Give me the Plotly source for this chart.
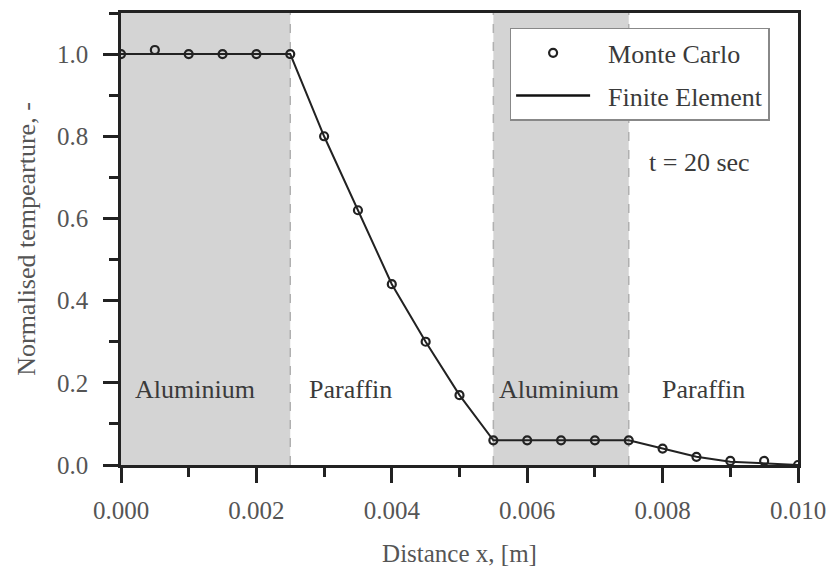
import plotly.graph_objects as go

# Data
x_pos = [0.0, 0.0005, 0.001, 0.0015, 0.002, 0.0025, 0.003, 0.0035, 0.004, 0.0045, 0.005,
         0.0055, 0.006, 0.0065, 0.007, 0.0075, 0.008, 0.0085, 0.009, 0.0095, 0.010]
mc_vals = [1.0, 1.01, 1.0, 1.0, 1.0, 1.0, 0.80, 0.62, 0.44, 0.30, 0.17,
           0.06, 0.06, 0.06, 0.06, 0.06, 0.04, 0.02, 0.01, 0.01, 0.0]
fe_vals = [1.0, 1.0, 1.0, 1.0, 1.0, 1.0, 0.80, 0.62, 0.44, 0.30, 0.17,
           0.06, 0.06, 0.06, 0.06, 0.06, 0.04, 0.02, 0.008, 0.004, 0.0]
al_regions = [(0.0, 0.0025), (0.0055, 0.0075)]
boundaries = [0.0025, 0.0055, 0.0075]
region_labels = ["Aluminium", "Paraffin", "Aluminium", "Paraffin"]
region_label_x = [0.00110, 0.00339, 0.00647, 0.00860]

FONT = "Liberation Serif, Times New Roman, serif"
TXT = "#3a3a3a"

fig = go.Figure()

fig.add_trace(go.Scatter(x=x_pos, y=fe_vals, mode="lines", name="Finite Element",
                         line=dict(color="#222222", width=2), showlegend=False))
fig.add_trace(go.Scatter(x=x_pos, y=mc_vals, mode="markers", name="\u2002Monte Carlo",
                         legendgroup="mc",
                         marker=dict(symbol="circle-open", size=8, color="#222222",
                                     line=dict(width=2.2))))
fig.add_trace(go.Scatter(x=[None], y=[None], mode="lines", name="\u2002Finite Element",
                         legendgroup="fe",
                         line=dict(color="#111111", width=2.5)))

for a, b in al_regions:
    fig.add_shape(type="rect", xref="x", yref="y", x0=a, x1=b, y0=0, y1=1.1,
                  fillcolor="#d4d4d4", line=dict(width=0), layer="below")
for bx in boundaries:
    fig.add_shape(type="line", xref="x", yref="y", x0=bx, x1=bx, y0=0, y1=1.1,
                  line=dict(color="#b0b0b0", width=1.5, dash="dash"), layer="below")

for lab, lx in zip(region_labels, region_label_x):
    fig.add_annotation(x=lx, y=0.184, xref="x", yref="y", text=lab, showarrow=False,
                       font=dict(family=FONT, size=26, color=TXT))

fig.add_annotation(x=0.00855, y=0.735, xref="x", yref="y", text="t = 20 sec", showarrow=False,
                   font=dict(family=FONT, size=26, color=TXT))

fig.update_layout(
    width=836, height=573,
    margin=dict(l=121, r=34, t=10, b=107),
    plot_bgcolor="white", paper_bgcolor="white",
    font=dict(family=FONT, color=TXT),
    legend=dict(x=0.574, y=0.967, xanchor="left", yanchor="top",
                bgcolor="white", bordercolor="#888888", borderwidth=1.5,
                font=dict(family=FONT, size=26, color=TXT), itemwidth=74,
                tracegroupgap=6),
)
fig.update_xaxes(range=[0, 0.010], tickvals=[0, 0.002, 0.004, 0.006, 0.008, 0.010],
                 tickformat=".3f", ticks="outside", ticklen=15, tickwidth=2.5, tickcolor="#222",
                 minor=dict(ticks="outside", ticklen=9, tickwidth=2.5, dtick=0.001, tickcolor="#222"),
                 showline=True, linecolor="#222", linewidth=2.5, mirror=True,
                 showgrid=False, zeroline=False, ticklabelstandoff=6,
                 tickfont=dict(family=FONT, size=25, color="#555"),
                 title=dict(text="Distance x, [m]", font=dict(family=FONT, size=25, color="#555"),
                            standoff=22))
fig.update_yaxes(range=[0, 1.1], tickvals=[0, 0.2, 0.4, 0.6, 0.8, 1.0],
                 tickformat=".1f", ticks="outside", ticklen=15, tickwidth=2.5, tickcolor="#222",
                 minor=dict(ticks="outside", ticklen=9, tickwidth=2.5, dtick=0.1, tickcolor="#222"),
                 showline=True, linecolor="#222", linewidth=2.5, mirror=True,
                 showgrid=False, zeroline=False, ticklabelstandoff=10,
                 tickfont=dict(family=FONT, size=25, color="#555"),
                 title=dict(text="Normalised tempearture, -", font=dict(family=FONT, size=26, color="#555"),
                            standoff=14))

fig.write_html("out.html")
